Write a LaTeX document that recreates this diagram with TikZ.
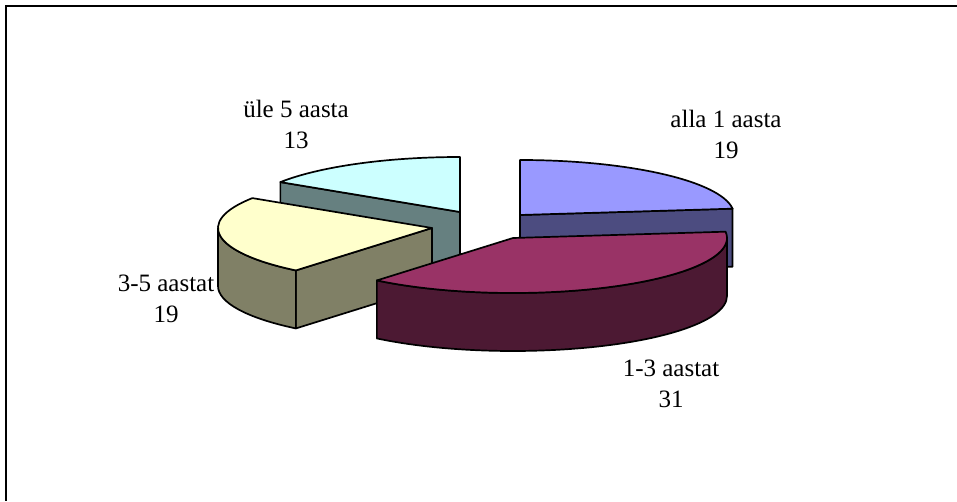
\documentclass[tikz,border=0pt]{standalone}
\usepackage{fontspec}
\setmainfont{Liberation Serif}
\usepackage{xcolor}

\definecolor{allatop}{HTML}{9999FF}
\definecolor{allaside}{HTML}{4C4C80}
\definecolor{yksolmtop}{HTML}{993366}
\definecolor{yksolmside}{HTML}{4C1933}
\definecolor{kolmviistop}{HTML}{FFFFCC}
\definecolor{kolmviisside}{HTML}{808066}
\definecolor{uletop}{HTML}{CCFFFF}
\definecolor{uleside}{HTML}{668080}

\begin{document}
\begin{tikzpicture}[
  x=1pt, y=1pt,
  edge/.style={draw=black, line width=1.7pt, line join=round}, % slice outline
  slicelabel/.style={
    align=center,
    inner sep=0pt,
    font=\fontsize{25}{31}\selectfont
  }
]
\useasboundingbox (0,0) rectangle (957,501);

% frame
\draw[line width=1.6pt] (957,495) -- (6,495) -- (6,0);

% exploded slice centres
\coordinate (c1) at (520,286); % alla 1 aasta
\coordinate (c2) at (513,263); % 1-3 aastat
\coordinate (c3) at (432,273); % 3-5 aastat
\coordinate (c4) at (460,289); % ule 5 aasta

% ule 5 aasta
\filldraw[fill=uleside, edge] (c4) -- ++(147.08:214 and 55) -- ++(0,-58) -- ++(-32.92:214 and 55) -- cycle;
\filldraw[fill=uletop, edge] (c4) -- ++(90:214 and 55) arc[start angle=90, end angle=147.08, x radius=214, y radius=55] -- cycle;

% alla 1 aasta
\filldraw[fill=allaside, edge] (c1) -- ++(6.59:214 and 55) -- ++(0,-58) -- ++(186.59:214 and 55) -- cycle;
\filldraw[fill=allatop, edge] (c1) -- ++(90:214 and 55) arc[start angle=90, end angle=6.59, x radius=214, y radius=55] -- cycle;

% 3-5 aastat
\filldraw[fill=kolmviisside, edge] (c3) -- ++(230.49:214 and 55) -- ++(0,-58) -- ++(50.49:214 and 55) -- cycle;
\filldraw[fill=kolmviisside, edge] (c3) ++(180:214 and 55) arc[start angle=180, end angle=230.49, x radius=214, y radius=55] -- ++(0,-58) arc[start angle=230.49, end angle=180, x radius=214, y radius=55] -- cycle;
\filldraw[fill=kolmviistop, edge] (c3) -- ++(147.08:214 and 55) arc[start angle=147.08, end angle=230.49, x radius=214, y radius=55] -- cycle;

% 1-3 aastat
\filldraw[fill=yksolmside, edge] (c2) ++(0:214 and 55) arc[start angle=0, end angle=-129.51, x radius=214, y radius=55] -- ++(0,-58) arc[start angle=-129.51, end angle=0, x radius=214, y radius=55] -- cycle;
\filldraw[fill=yksolmtop, edge] (c2) -- ++(6.59:214 and 55) arc[start angle=6.59, end angle=-129.51, x radius=214, y radius=55] -- cycle;

% labels
\node[slicelabel] (alla) at (726,367) {alla 1 aasta\\19};
\node[slicelabel] (yksolm) at (671,117) {1-3 aastat\\31};
\node[slicelabel] (kolmviis) at (166,202) {3-5 aastat\\19};
\node[slicelabel] (ule) at (296,377) {üle 5 aasta\\13};
\end{tikzpicture}
\end{document}
